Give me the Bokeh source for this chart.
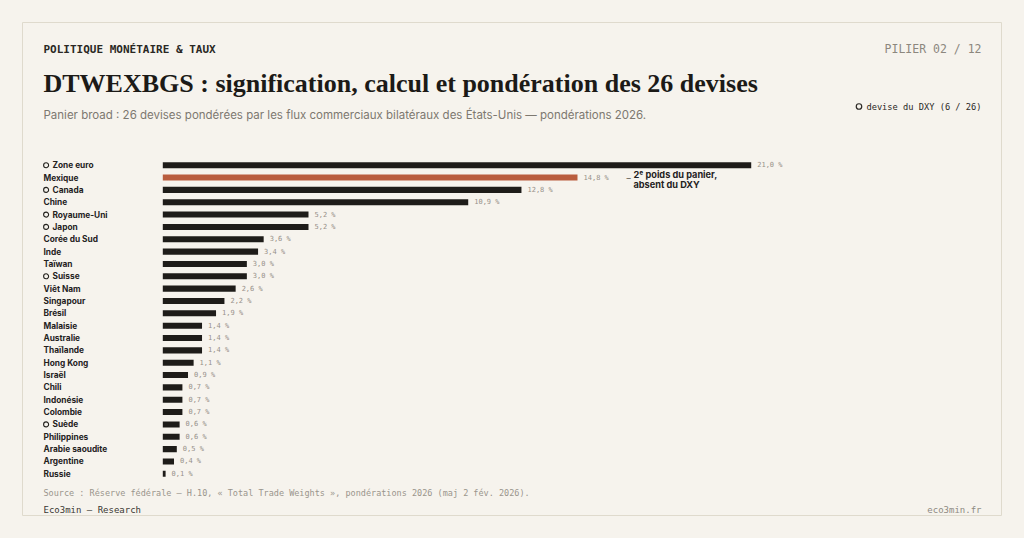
from bokeh.plotting import figure
from bokeh.models import Range1d, ColumnDataSource
from bokeh.core.properties import value
from bokeh.embed import file_html
from bokeh.resources import INLINE

# ---------------- data ----------------
categories = ["Zone euro", "Mexique", "Canada", "Chine", "Royaume-Uni", "Japon",
              "Corée du Sud", "Inde", "Taïwan", "Suisse", "Viêt Nam", "Singapour",
              "Brésil", "Malaisie", "Australie", "Thaïlande", "Hong Kong", "Israël",
              "Chili", "Indonésie", "Colombie", "Suède", "Philippines",
              "Arabie saoudite", "Argentine", "Russie"]
weights = [21.0, 14.8, 12.8, 10.9, 5.2, 5.2, 3.6, 3.4, 3.0, 3.0, 2.6, 2.2, 1.9,
           1.4, 1.4, 1.4, 1.1, 0.9, 0.7, 0.7, 0.7, 0.6, 0.6, 0.5, 0.4, 0.1]
dxy_members = ["Zone euro", "Canada", "Royaume-Uni", "Japon", "Suisse", "Suède"]
highlight = "Mexique"

kicker = "POLITIQUE MONÉTAIRE & TAUX"
pillar = "PILIER 02 / 12"
title = "DTWEXBGS : signification, calcul et pondération des 26 devises"
subtitle = ("Panier broad : 26 devises pondérées par les flux commerciaux bilatéraux "
            "des États-Unis — pondérations 2026.")
legend_text = "devise du DXY (6 / 26)"
note_lines = ["2ᵉ poids du panier,", "absent du DXY"]
source = "Source : Réserve fédérale — H.10, « Total Trade Weights », pondérations 2026 (maj 2 fév. 2026)."
footer_left = "Eco3min — Research"
footer_right = "eco3min.fr"

# ---------------- style ----------------
W, H = 1008, 522
BG = "#f6f3ed"
CARD_LINE = "#dfdacd"
DARK = "#1e1c19"
ORANGE = "#b95d3e"
MONO = "DejaVu Sans Mono"
SANS = "Inter"
SERIF = "Liberation Serif"

BAR0_PX = 162.3        # pixel of value 0
PX_PER_PCT = 28.02
ROW0_PX = 164.7        # pixel of first row centre (from top)
ROW_STEP = 12.344

x_start = -BAR0_PX / PX_PER_PCT
x_end = (W - BAR0_PX) / PX_PER_PCT
y_top = -ROW0_PX / ROW_STEP
y_bottom = (H - ROW0_PX) / ROW_STEP

p = figure(width=W, height=H, output_backend="svg", toolbar_location=None, tools="",
           x_axis_type=None, y_axis_type=None,
           x_range=Range1d(x_start, x_end), y_range=Range1d(y_bottom, y_top),
           min_border=0, background_fill_color=BG, border_fill_color=BG,
           outline_line_color=None)
p.extra_x_ranges = {"px": Range1d(0, W)}
p.extra_y_ranges = {"py": Range1d(H, 0)}
p.grid.visible = False

# card
p.quad(left=[22], right=[1001], top=[22], bottom=[515], x_range_name="px", y_range_name="py",
       fill_color=BG, line_color=CARD_LINE, line_width=1)

rows = list(range(len(categories)))
colors = [ORANGE if c == highlight else DARK for c in categories]
labels_val = [f"{w:.1f}".replace(".", ",") + " %" for w in weights]
is_dxy = [c in dxy_members for c in categories]
label_x = [52 if d else 43 for d in is_dxy]

src = ColumnDataSource(dict(cat=categories, w=weights, y=rows, color=colors,
                            vlab=labels_val, lx=label_x))

p.hbar(y="y", left=0, right="w", height=0.49, source=src, fill_color="color",
       line_color=None)

p.text(x="w", y="y", text="vlab", source=src, x_offset=6, text_baseline="middle",
       text_font=value(MONO), text_font_size="7px", text_color="#96918a")

p.text(x="lx", y="y", text="cat", source=src, x_range_name="px", text_baseline="middle",
       text_font=value(SANS), text_font_size="8.3px", text_font_style="bold",
       text_color="#24221e")

dxy_rows = [i for i, d in enumerate(is_dxy) if d]
p.scatter(x=[45.6] * len(dxy_rows), y=dxy_rows, x_range_name="px", marker="circle", size=5,
          fill_color=None, line_color="#24221e", line_width=1.1)

# annotation for Mexique
mi = categories.index(highlight)
p.text(x=[weights[mi]], y=[mi], text=["–"], x_offset=49, text_baseline="middle",
       text_font=value(SANS), text_font_size="8.5px", text_color="#555049")
p.text(x=[weights[mi]] * 2, y=[mi, mi], text=note_lines, x_offset=56, y_offset=[-3.5, 6.5],
       text_baseline="middle", text_font=value(SANS), text_font_size="9.2px",
       text_font_style="bold", text_color="#24221e")


def txt(x, y, s, size, color, font, style="normal", align="left", baseline="alphabetic"):
    p.text(x=[x], y=[y], text=[s], x_range_name="px", y_range_name="py",
           text_font=value(font), text_font_size=f"{size}px", text_color=color,
           text_font_style=style, text_align=align, text_baseline=baseline)


txt(43, 48.7, kicker, 11, "#2a2824", MONO, style="bold")
txt(981, 48.7, pillar, 11.5, "#8c877e", MONO, align="right")
txt(43, 82.7, title, 26, "#1c1a17", SERIF, style="bold")
txt(43, 114, subtitle, 11.5, "#7d7870", SANS)
txt(981, 106, legend_text, 8.7, "#2a2824", MONO, align="right", baseline="middle")
p.scatter(x=[858.5], y=[106], x_range_name="px", y_range_name="py", marker="circle", size=5.5,
          fill_color=None, line_color="#2a2824", line_width=1.2)
txt(43, 492, source, 8.5, "#9a958c", MONO, baseline="middle")
txt(43, 509, footer_left, 9, "#3a3732", MONO, baseline="middle")
txt(981, 509, footer_right, 9, "#8e8a82", MONO, align="right", baseline="middle")

html = file_html(p, INLINE)
html = html.replace("</head>", "<style>body{background:%s;}</style></head>" % BG, 1)
open("out.html", "w").write(html)
